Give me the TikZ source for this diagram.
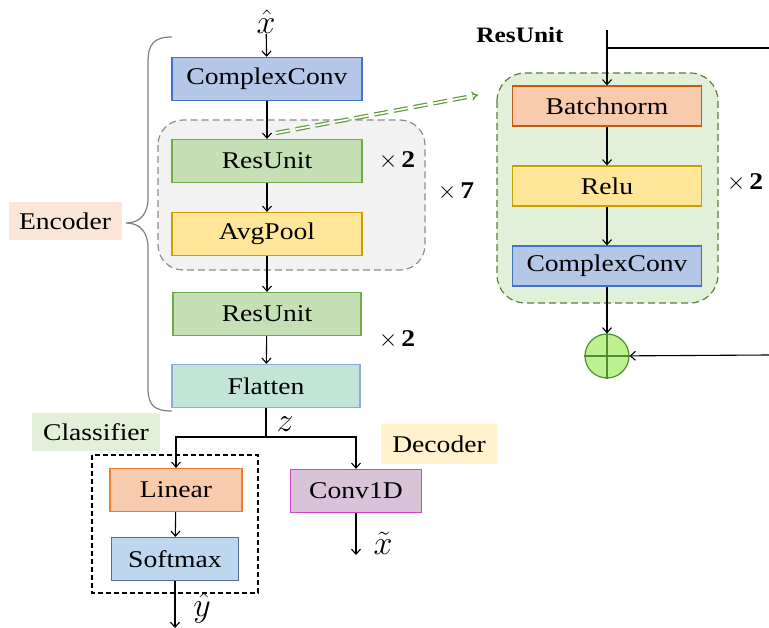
\documentclass[tikz,border=0pt]{standalone}
\usepackage{fix-cm}
\usepackage{fontspec}
\setmainfont{Liberation Serif}[FakeStretch=1.15]
\usetikzlibrary{arrows.meta}

\definecolor{blueF}{HTML}{B4C7E7}\definecolor{blueD}{HTML}{4472C4}
\definecolor{greenF}{HTML}{C5E0B4}\definecolor{greenD}{HTML}{70AD47}
\definecolor{yellowF}{HTML}{FFE699}\definecolor{yellowD}{HTML}{C9A000}
\definecolor{tealF}{HTML}{C3E5D7}\definecolor{tealD}{HTML}{8EA9DB}
\definecolor{orangeF}{HTML}{F8CBAD}\definecolor{orangeD}{HTML}{ED7D31}
\definecolor{bnD}{HTML}{C55A11}
\definecolor{smF}{HTML}{BDD7EE}\definecolor{smD}{HTML}{4F6D8F}
\definecolor{purpF}{HTML}{D8C3D8}\definecolor{purpD}{HTML}{CC44CC}
\definecolor{encF}{HTML}{FBE5D6}\definecolor{clsF}{HTML}{E2F0D9}
\definecolor{decF}{HTML}{FFF2CC}
\definecolor{grpF}{HTML}{F2F2F2}\definecolor{grpD}{HTML}{8C8C8C}
\definecolor{resF}{HTML}{E2EFD9}\definecolor{resD}{HTML}{548235}
\definecolor{addF}{HTML}{BDF08E}\definecolor{addD}{HTML}{4E8F2A}
\definecolor{linkD}{HTML}{5E9A3A}

\tikzset{
  blk/.style={draw, line width=1.3pt, minimum height=43pt, inner sep=0pt,
    font=\fontsize{24}{28}\selectfont},
  tag/.style={inner sep=0pt, font=\fontsize{24}{28}\selectfont},
  flow/.style={-{Straight Barb[length=5pt,width=9pt]}, line width=1.1pt},
  rep/.style={font=\fontsize{24}{28}\selectfont},
  sym/.style={inner sep=0pt, font=\fontsize{34}{38}\selectfont},
}

\newcommand{\reps}[1]{$\times$\,\textbf{#1}}

\begin{document}
\begin{tikzpicture}[x=1pt,y=-1pt]
\useasboundingbox (0,0) rectangle (769,628);

% group backgrounds
\draw[grpD, fill=grpF, dashed, dash pattern=on 7pt off 4pt, line width=1.2pt, rounded corners=25pt]
  (158,120) rectangle (425,270);
\draw[resD, fill=resF, dashed, dash pattern=on 7pt off 4pt, line width=1.2pt, rounded corners=28pt]
  (497,73) rectangle (718,303);
\draw[black, dashed, dash pattern=on 5pt off 3pt, line width=1.2pt]
  (92,455) rectangle (258,593);

% encoder column
\node[sym] (xin) at (266,22) {$\hat{x}$};
\node[blk, fill=blueF, draw=blueD, minimum width=190pt] (cc1) at (267,79) {ComplexConv};
\node[blk, fill=greenF, draw=greenD, minimum width=190pt] (ru1) at (267,161) {ResUnit};
\node[blk, fill=yellowF, draw=yellowD, minimum width=190pt] (ap) at (267,234) {AvgPool};
\node[blk, fill=greenF, draw=greenD, minimum width=188pt] (ru2) at (267,314) {ResUnit};
\node[blk, fill=tealF, draw=tealD, minimum width=188pt] (flat) at (266,386) {Flatten};

\node[rep] (r1) at (397,161) {\reps{2}};
\node[rep] (r7) at (456,192) {\reps{7}};
\node[rep] (r2) at (397,340) {\reps{2}};

\draw[flow] (xin) -- (cc1);
\draw[flow] (cc1) -- (ru1);
\draw[flow] (ru1) -- (ap);
\draw[flow] (ap) -- (ru2);
\draw[flow] (ru2) -- (flat);

% encoder brace and label
\draw[gray, line width=1.2pt]
  (172,37) .. controls (154,37) and (148,44) .. (148,62) -- (148,198)
  .. controls (148,214) and (140,223) .. (126,223)
  .. controls (140,223) and (148,232) .. (148,248) -- (148,388)
  .. controls (148,405) and (154,411) .. (172,411);
\node[tag, fill=encF, minimum width=113pt, minimum height=38pt] (enc) at (65,221) {Encoder};

% heads
\coordinate (split) at (266,437);
\node[sym] (z) at (285,424) {$z$};
\node[tag, fill=clsF, minimum width=128pt, minimum height=38pt] (cls) at (96,432) {Classifier};
\node[tag, fill=decF, minimum width=116pt, minimum height=39pt] (dec) at (439,444) {Decoder};

\node[blk, fill=orangeF, draw=orangeD, minimum width=132pt] (lin) at (176,490) {Linear};
\node[blk, fill=smF, draw=smD, minimum width=127pt] (sm) at (175,559) {Softmax};
\node[blk, fill=purpF, draw=purpD, minimum width=131pt] (c1d) at (356,491) {Conv1D};

\draw[line width=1.1pt] (flat) -- (split);
\draw[flow] (split) -| (lin);
\draw[flow] (split) -| (c1d);
\draw[flow] (lin) -- (sm);

\coordinate (yout) at (175,628);
\draw[flow] (sm) -- (yout);
\node[sym] (yhat) at (202,608) {$\hat{y}$};

\coordinate (xout) at (356,555);
\draw[flow] (c1d) -- (xout);
\node[sym] (xtil) at (383,543) {$\tilde{x}$};

% link to the detailed residual unit
\coordinate (lnkA) at (276,133);
\coordinate (lnkB) at (478,95);
\draw[linkD, double, double distance=1.8pt, line width=1.2pt, dash pattern=on 14pt off 6pt,
  -{Implies[length=7pt]}] (lnkA) -- (lnkB);

% residual unit detail
\node[font=\bfseries\fontsize{22}{26}\selectfont] (rtitle) at (520,35) {ResUnit};
\node[blk, fill=orangeF, draw=bnD, minimum width=189pt, minimum height=40pt] (bn) at (607,106) {Batchnorm};
\node[blk, fill=yellowF, draw=yellowD, minimum width=189pt, minimum height=40pt] (relu) at (607,186) {Relu};
\node[blk, fill=blueF, draw=blueD, minimum width=189pt, minimum height=40pt] (cc2) at (607,266) {ComplexConv};
\node[rep] (r2b) at (745,183) {\reps{2}};

\node[circle, draw=addD, fill=addF, line width=1.2pt, minimum size=44pt, inner sep=0pt] (add) at (607,356) {};
\draw[addD, line width=1.2pt] (add.north) -- (add.south) (add.west) -- (add.east);

\coordinate (rtop) at (607,30);
\coordinate (rsplit) at (607,48);
\coordinate (rright) at (769,48);
\coordinate (rin) at (769,355);
\draw[flow] (rtop) -- (bn);
\draw[line width=1.1pt] (rsplit) -- (rright);
\draw[flow] (bn) -- (relu);
\draw[flow] (relu) -- (cc2);
\draw[flow] (cc2) -- (add);
\draw[flow] (rin) -- (add);
\end{tikzpicture}
\end{document}
